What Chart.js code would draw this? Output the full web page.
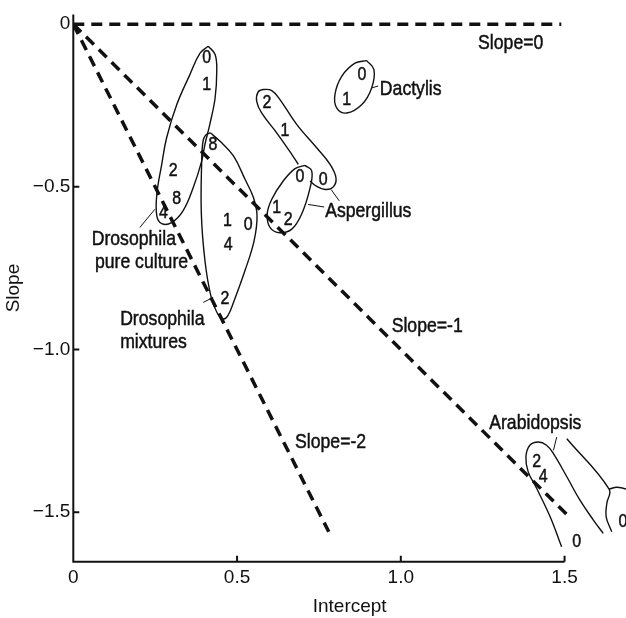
<!DOCTYPE html>
<html>
<head>
<meta charset="utf-8">
<title>Slope vs Intercept</title>
<script src="https://cdn.jsdelivr.net/npm/chart.js@4.4.1/dist/chart.umd.min.js"></script>
<style>
  html, body { margin: 0; padding: 0; background: #fff; overflow: hidden; }
</style>
</head>
<body>
<canvas id="chart" width="626" height="618"></canvas>
<script>
// Axis ticks
const xTicks = [0, 0.5, 1.0, 1.5];
const yTicks = [0, -0.5, -1.0, -1.5];

// Reference slope lines through the origin
const slopeZero = [[0, 0], [1.49, 0]];
const slopeMinusOne = [[0, 0], [1.52, -1.52]];
const slopeMinusTwo = [[0, 0], [0.78, -1.56]];

// Outlines round each group of points
const pureCultureOutline = [[0.412,-0.068],[0.433,-0.093],[0.438,-0.145],[0.433,-0.227],[0.417,-0.307],[0.402,-0.369],[0.392,-0.421],[0.366,-0.503],[0.335,-0.574],[0.300,-0.610],[0.270,-0.613],[0.255,-0.589],[0.255,-0.523],[0.270,-0.431],[0.285,-0.349],[0.316,-0.247],[0.356,-0.155],[0.387,-0.089],[0.412,-0.068]];
const mixturesOutline = [[0.418,-0.334],[0.448,-0.360],[0.489,-0.405],[0.524,-0.476],[0.550,-0.533],[0.561,-0.589],[0.552,-0.666],[0.524,-0.758],[0.491,-0.850],[0.472,-0.896],[0.458,-0.906],[0.439,-0.887],[0.420,-0.835],[0.402,-0.727],[0.391,-0.583],[0.392,-0.421],[0.396,-0.360],[0.404,-0.341],[0.418,-0.334]];
const aspergillusUpperOutline = [[0.687,-0.431],[0.667,-0.400],[0.621,-0.334],[0.575,-0.273],[0.560,-0.237],[0.564,-0.209],[0.580,-0.201],[0.606,-0.204],[0.631,-0.232],[0.682,-0.308],[0.743,-0.380],[0.784,-0.431],[0.802,-0.472],[0.794,-0.500],[0.769,-0.508],[0.741,-0.497],[0.723,-0.482]];
const aspergillusLowerOutline = [[0.707,-0.434],[0.728,-0.451],[0.723,-0.503],[0.697,-0.584],[0.667,-0.630],[0.631,-0.641],[0.601,-0.625],[0.592,-0.584],[0.606,-0.538],[0.641,-0.482],[0.677,-0.444],[0.707,-0.434]];
const dactylisOutline = [[0.896,-0.112],[0.918,-0.140],[0.911,-0.196],[0.881,-0.247],[0.835,-0.273],[0.804,-0.257],[0.799,-0.216],[0.820,-0.160],[0.860,-0.120],[0.896,-0.112]];
const arabidopsisOutline = [[1.491,-1.606],[1.456,-1.514],[1.415,-1.427],[1.389,-1.376],[1.382,-1.330],[1.394,-1.294],[1.420,-1.284],[1.445,-1.294],[1.466,-1.320],[1.507,-1.391],[1.547,-1.463],[1.588,-1.524],[1.618,-1.565]];
const arabidopsisRightOutline = [[1.507,-1.274],[1.636,-1.429],[1.629,-1.473],[1.627,-1.514],[1.644,-1.560]];
const arabidopsisRightTop = [[1.636,-1.429],[1.660,-1.423],[1.688,-1.429],[1.730,-1.450]];

// Leader lines from outlines to their names
const leaders = [
    [[0.203,-0.625],[0.249,-0.569]],
    [[0.397,-0.855],[0.427,-0.840]],
    [[0.911,-0.196],[0.931,-0.190]],
    [[0.717,-0.554],[0.766,-0.562]],
    [[0.787,-0.508],[0.812,-0.543]],
    [[1.466,-1.310],[1.476,-1.269]]
];

// Numbers written inside the outlines
const pointDigits = [
    ['0', 0.407, -0.104], ['1', 0.407, -0.186], ['2', 0.305, -0.451], ['8', 0.316, -0.538], ['4', 0.275, -0.579],
    ['8', 0.426, -0.370], ['1', 0.471, -0.605], ['0', 0.534, -0.617], ['4', 0.473, -0.678], ['2', 0.463, -0.843],
    ['2', 0.591, -0.242], ['1', 0.646, -0.329], ['0', 0.763, -0.477],
    ['0', 0.692, -0.470], ['1', 0.621, -0.564], ['2', 0.656, -0.600],
    ['0', 0.881, -0.155], ['1', 0.835, -0.232],
    ['2', 1.415, -1.345], ['4', 1.435, -1.391], ['0', 1.537, -1.591], ['0', 1.678, -1.529]
];

// Names and slope captions (left edge, middle)
const captions = [
    ['Slope=0', 1.236, -0.058],
    ['Slope=-1', 0.972, -0.927],
    ['Slope=-2', 0.677, -1.284],
    ['Dactylis', 0.936, -0.201],
    ['Aspergillus', 0.769, -0.574],
    ['Drosophila', 0.056, -0.661],
    ['pure culture', 0.066, -0.732],
    ['Drosophila', 0.143, -0.906],
    ['mixtures', 0.143, -0.978],
    ['Arabidopsis', 1.270, -1.226]
];

const X_MIN = 0, X_MAX = 1.6876;
const Y_MIN = -1.652, Y_MAX = 0.03;
const INK = '#111';
const FONT = '"Liberation Sans", Arial, sans-serif';

const toPoints = arr => arr.map(p => ({ x: p[0], y: p[1] }));

function dashed(arr) {
    return { data: toPoints(arr), showLine: true, borderColor: INK, borderWidth: 3.5,
             borderDash: [11, 7], pointRadius: 0, tension: 0 };
}
function outline(arr) {
    return { data: toPoints(arr), showLine: true, borderColor: INK, borderWidth: 1.4,
             pointRadius: 0, tension: 0.4 };
}
function thin(arr) {
    return { data: toPoints(arr), showLine: true, borderColor: INK, borderWidth: 1,
             pointRadius: 0, tension: 0 };
}

// Axis lines with inward ticks, x axis stops at 1.5
const axesPlugin = {
    id: 'axes',
    beforeDatasetsDraw(chart) {
        const ctx = chart.ctx;
        const xs = chart.scales.x, ys = chart.scales.y;
        const x0 = xs.getPixelForValue(0);
        const yb = ys.getPixelForValue(Y_MIN);
        ctx.save();
        ctx.strokeStyle = INK;
        ctx.lineWidth = 2;
        ctx.beginPath();
        ctx.moveTo(x0, chart.chartArea.top);
        ctx.lineTo(x0, yb);
        ctx.lineTo(xs.getPixelForValue(1.5), yb);
        xTicks.forEach(v => {
            const px = xs.getPixelForValue(v);
            ctx.moveTo(px, yb);
            ctx.lineTo(px, yb - 6);
        });
        yTicks.forEach(v => {
            const py = ys.getPixelForValue(v);
            ctx.moveTo(x0, py);
            ctx.lineTo(x0 + 6, py);
        });
        ctx.stroke();
        ctx.restore();
    }
};

// Condensed-looking text: squeeze the glyphs horizontally, thicken slightly
function narrowText(ctx, text, x, y, align) {
    const squeeze = 0.84;
    const w = ctx.measureText(text).width * squeeze;
    const left = align === 'center' ? x - w / 2 : x;
    ctx.save();
    ctx.translate(left, y);
    ctx.scale(squeeze, 1);
    ctx.textAlign = 'left';
    ctx.fillText(text, 0, 0);
    ctx.strokeText(text, 0, 0);
    ctx.restore();
}

// Digits and captions placed through the scales
const textPlugin = {
    id: 'texts',
    afterDatasetsDraw(chart) {
        const ctx = chart.ctx;
        const xs = chart.scales.x, ys = chart.scales.y;
        ctx.save();
        ctx.fillStyle = INK;
        ctx.strokeStyle = INK;
        ctx.lineWidth = 0.5;
        ctx.textBaseline = 'middle';
        ctx.font = '19px ' + FONT;
        pointDigits.forEach(d => narrowText(ctx, d[0], xs.getPixelForValue(d[1]), ys.getPixelForValue(d[2]), 'center'));
        ctx.font = '21px ' + FONT;
        captions.forEach(c => narrowText(ctx, c[0], xs.getPixelForValue(c[1]), ys.getPixelForValue(c[2]), 'left'));
        ctx.restore();
    }
};

const tickText = v => v === 0 ? '0' : (v < 0 ? '\u2212' : '') + Math.abs(v).toFixed(1);

const datasets = [
    dashed(slopeZero), dashed(slopeMinusOne), dashed(slopeMinusTwo),
    outline(pureCultureOutline), outline(mixturesOutline),
    outline(aspergillusUpperOutline), outline(aspergillusLowerOutline),
    outline(dactylisOutline), outline(arabidopsisOutline),
    outline(arabidopsisRightOutline), outline(arabidopsisRightTop)
].concat(leaders.map(thin));

new Chart(document.getElementById('chart').getContext('2d'), {
    type: 'scatter',
    data: { datasets: datasets },
    options: {
        responsive: false,
        animation: false,
        layout: { padding: { top: 12.9, right: 0, left: 0, bottom: 0 } },
        plugins: { legend: { display: false }, tooltip: { enabled: false } },
        scales: {
            x: {
                type: 'linear', min: X_MIN, max: X_MAX,
                grid: { display: false, drawTicks: false },
                border: { display: false },
                afterBuildTicks: s => { s.ticks = xTicks.map(v => ({ value: v })); },
                afterFit: s => { s.height = 56.3; },
                ticks: { padding: 5, color: INK, maxRotation: 0, font: { family: FONT, size: 19 }, callback: tickText },
                title: { display: true, text: 'Intercept', color: INK, padding: { top: 0, bottom: 0 },
                         font: { family: FONT, size: 19 } }
            },
            y: {
                type: 'linear', min: Y_MIN, max: Y_MAX,
                grid: { display: false, drawTicks: false },
                border: { display: false },
                afterBuildTicks: s => { s.ticks = yTicks.map(v => ({ value: v })); },
                afterFit: s => { s.width = 73.3; },
                ticks: { padding: 3, color: INK, font: { family: FONT, size: 19 }, callback: tickText },
                title: { display: true, text: 'Slope', color: INK, padding: { top: 2, bottom: 0 },
                         font: { family: FONT, size: 19 } }
            }
        }
    },
    plugins: [axesPlugin, textPlugin]
});
</script>
</body>
</html>
